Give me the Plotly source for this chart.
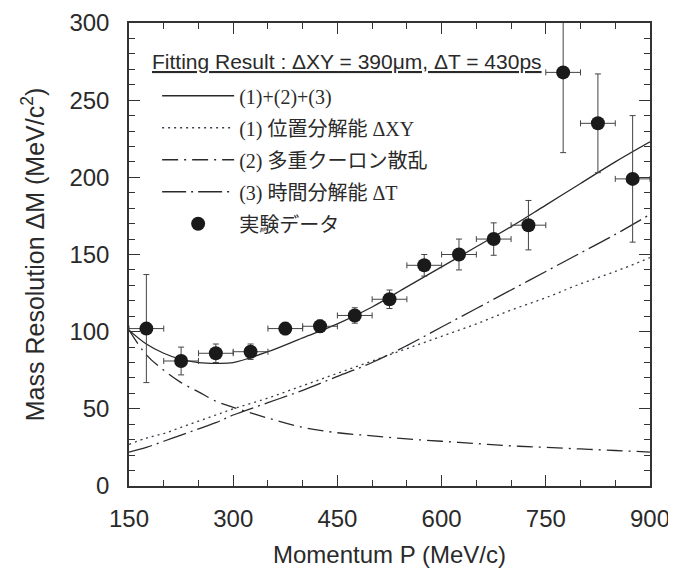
import plotly.graph_objects as go

# ---- data ----
momentum = [175, 225, 275, 325, 375, 425, 475, 525, 575, 625, 675, 725, 775, 825, 875]
resolution = [102, 81, 86, 87, 102, 103.5, 110.5, 121, 143, 150, 160, 169, 268, 235, 199]
res_err = [35, 9, 6, 5, 4, 4, 5, 6, 7, 10, 10.5, 16, 52, 32, 41]
mom_err = [25] * 15

p_fit = [150, 175, 200, 225, 250, 275, 300, 350, 400, 450, 500, 550, 600, 650, 700, 750, 800, 850, 900]
fit_total = [101, 92, 86, 82, 80, 79.5, 80, 87, 96, 105, 116, 129, 142, 155, 168, 182, 196, 210, 223]
fit_position = [27, 31, 34, 38, 42, 46, 50, 57, 65, 73, 81, 89, 97, 105, 114, 122, 131, 139, 148]
fit_coulomb = [101, 85, 75, 67, 61, 55, 51, 44, 38, 34.5, 32.5, 30.5, 29, 27.5, 26, 25, 24, 23, 22]
fit_time = [22, 25, 29, 33, 37, 41, 46, 54, 62, 71, 80, 91, 103, 115, 127, 139, 151, 163, 176]

x_ticks = [150, 300, 450, 600, 750, 900]
y_ticks = [0, 50, 100, 150, 200, 250, 300]

names = ["(1)+(2)+(3)", "(1) 位置分解能 ΔXY", "(2) 多重クーロン散乱", "(3) 時間分解能 ΔT", "実験データ"]
title_text = "Fitting Result : ΔXY = 390μm, ΔT = 430ps"

INK = "#2a2a2a"
BG = "#ffffff"

fig = go.Figure()
fig.add_trace(go.Scatter(x=p_fit, y=fit_total, mode="lines", name=names[0], legendgroup="a",
                         line=dict(color=INK, width=1.3, shape="spline")))
fig.add_trace(go.Scatter(x=p_fit, y=fit_position, mode="lines", name=names[1], legendgroup="b",
                         line=dict(color="#3a3a48", width=1.3, dash="2px,4px", shape="spline")))
fig.add_trace(go.Scatter(x=p_fit, y=fit_coulomb, mode="lines", name=names[2], legendgroup="c",
                         line=dict(color=INK, width=1.3, dash="16px,6px,2px,6px", shape="spline")))
fig.add_trace(go.Scatter(x=p_fit, y=fit_time, mode="lines", name=names[3], legendgroup="d",
                         line=dict(color=INK, width=1.3, dash="24px,5px,2px,5px", shape="spline")))
fig.add_trace(go.Scatter(x=momentum, y=resolution, mode="markers", name=names[4], legendgroup="e",
                         marker=dict(color="#1a1a1a", size=14, line=dict(width=0)),
                         error_y=dict(type="data", array=res_err, color="#444", thickness=1, width=3),
                         error_x=dict(type="data", array=mom_err, color="#444", thickness=1, width=3)))

fig.add_annotation(x=0.04, y=0.916, xref="paper", yref="paper", xanchor="left", yanchor="middle",
                   text="<u>" + title_text + "</u>", showarrow=False,
                   font=dict(family="Liberation Sans, Arial", size=21, color=INK))

axis_common = dict(
    ticks="inside", ticklen=11, tickwidth=1.2, tickcolor="#333",
    showline=True, linecolor="#333", linewidth=1.5, mirror="allticks",
    showgrid=False, zeroline=False, automargin=False,
    tickfont=dict(family="Liberation Sans, Arial", size=24, color=INK),
)

fig.update_xaxes(range=[150, 900], tickmode="array", tickvals=x_ticks,
                 ticktext=[str(v) for v in x_ticks],
                 minor=dict(dtick=50, tick0=150, ticks="inside", ticklen=6, tickcolor="#333", tickwidth=1.2),
                 ticklabelstandoff=10,
                 title=dict(text="Momentum P (MeV/c)", standoff=17,
                            font=dict(family="Liberation Sans, Arial", size=24, color=INK)),
                 **axis_common)
fig.update_yaxes(range=[0, 300], tickmode="array", tickvals=y_ticks,
                 ticktext=[str(v) for v in y_ticks],
                 minor=dict(dtick=10, tick0=0, ticks="inside", ticklen=6, tickcolor="#333", tickwidth=1.2),
                 ticklabelstandoff=13,
                 title=dict(text="Mass Resolution ΔM (MeV/c<sup>2</sup>)", standoff=18,
                            font=dict(family="Liberation Sans, Arial", size=25, color=INK)),
                 **axis_common)

# the page body adds an 8px offset, so the figure is 8px smaller than the window
fig.update_layout(
    width=668, height=560,
    margin=dict(l=121, r=26, t=15, b=82, autoexpand=False),
    paper_bgcolor=BG, plot_bgcolor=BG,
    showlegend=True,
    legend=dict(x=0.054, y=0.885, xanchor="left", yanchor="top",
                bgcolor="rgba(0,0,0,0)", borderwidth=0,
                font=dict(family="Liberation Serif, Noto Sans CJK JP", size=20, color=INK),
                itemwidth=72, tracegroupgap=3, itemclick=False, itemdoubleclick=False),
)

fig.write_html("out.html")
